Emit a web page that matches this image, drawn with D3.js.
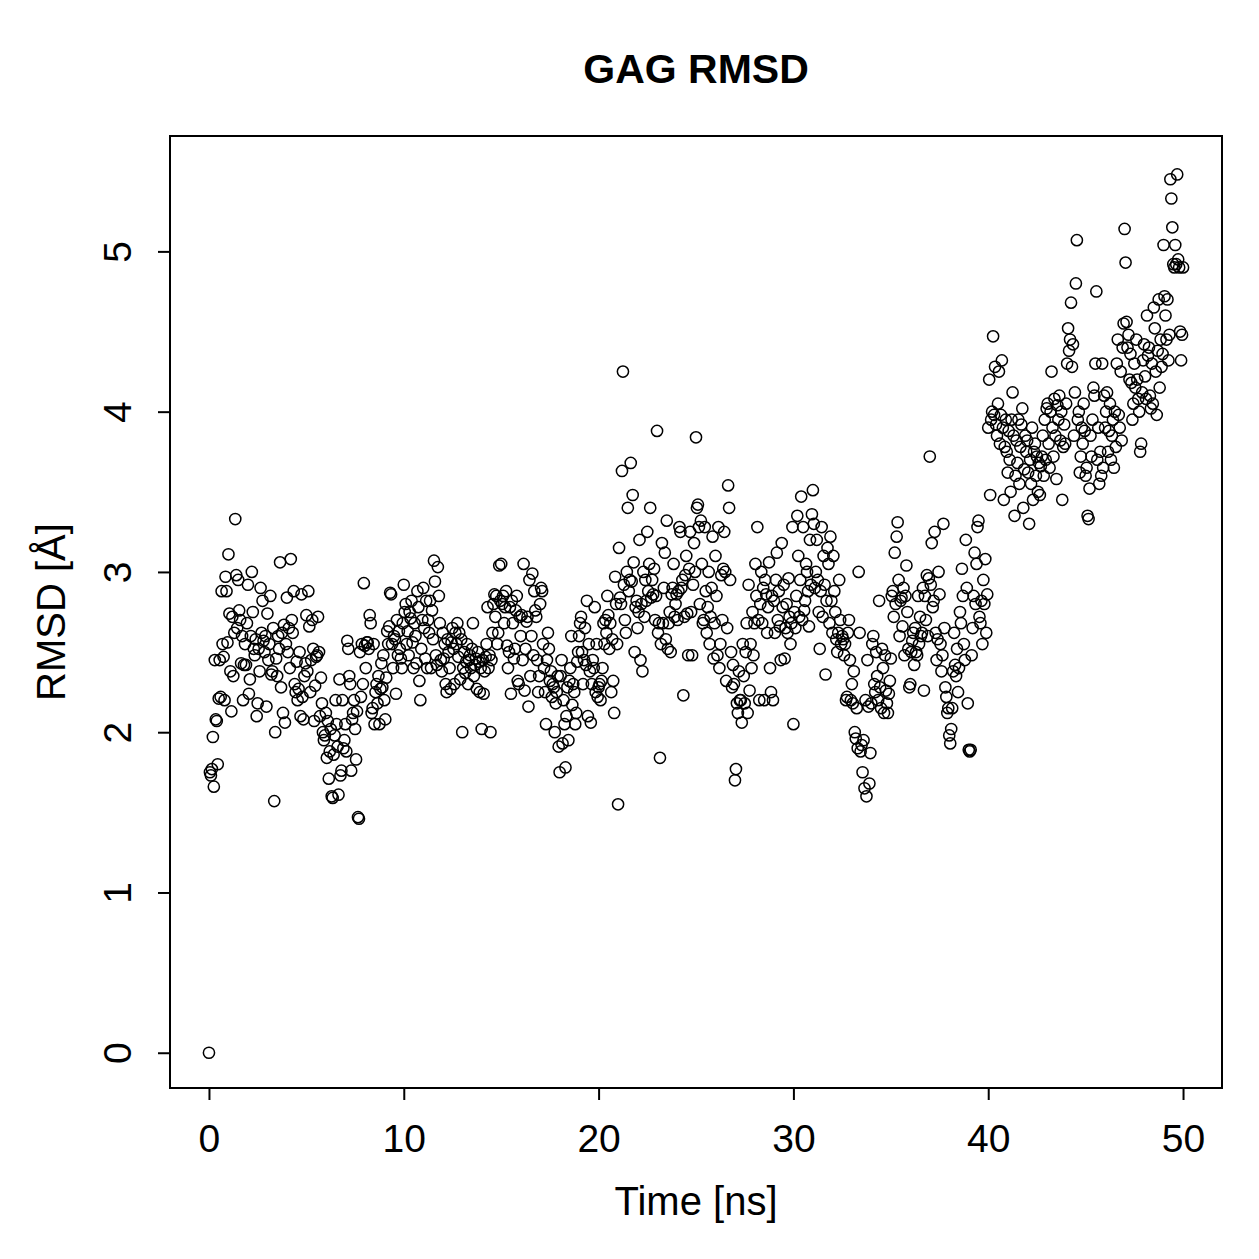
<!DOCTYPE html>
<html lang="en">
<head>
<meta charset="utf-8">
<title>GAG RMSD</title>
<style>
  body { margin: 0; background: #fff; }
  text { font-family: "Liberation Sans", Arial, sans-serif; fill: #000; }
</style>
</head>
<body>
<svg id="chart"></svg>
<script src="https://d3js.org/d3.v7.min.js"></script>
<script>
const chartTitle = "GAG RMSD";
const xLabel = "Time [ns]";
const yLabel = "RMSD [Å]";
const xTicks = [0, 10, 20, 30, 40, 50];
const yTicks = [0, 1, 2, 3, 4, 5];
const timeStep = 0.05; // ns between frames

// RMSD per frame, one row per ns (20 frames)
const rmsd = [
  0, 1.75, 1.73, 1.77, 1.97, 1.66, 2.45, 2.08, 2.07, 1.80, 2.21, 2.45, 2.22, 2.88, 2.55, 2.47, 2.20, 2.97, 2.88, 2.56,
  3.11, 2.74, 2.38, 2.13, 2.72, 2.35, 2.62, 3.33, 2.98, 2.65, 2.95, 2.76, 2.70, 2.43, 2.60, 2.20, 2.42, 2.55, 2.42, 2.68,
  2.92, 2.24, 2.33, 2.60, 3.00, 2.75, 2.52, 2.48, 2.58, 2.10, 2.18, 2.52, 2.38, 2.90, 2.62, 2.82, 2.57, 2.50, 2.60, 2.16,
  2.74, 2.45, 2.55, 2.85, 2.36, 2.38, 2.65, 1.57, 2.00, 2.46, 2.35, 2.60, 2.52, 3.06, 2.28, 2.62, 2.12, 2.67, 2.06, 2.55,
  2.84, 2.50, 2.65, 2.40, 3.08, 2.70, 2.62, 2.88, 2.30, 2.25, 2.44, 2.20, 2.27, 2.50, 2.10, 2.86, 2.22, 2.08, 2.35, 2.43,
  2.73, 2.38, 2.88, 2.66, 2.25, 2.45, 2.70, 2.52, 2.07, 2.29, 2.47, 2.48, 2.72, 2.50, 2.10, 2.34, 2.18, 2.00, 1.95, 1.98,
  2.12, 1.84, 2.07, 1.71, 1.88, 2.02, 1.60, 1.59, 1.86, 1.98, 2.20, 2.05, 1.91, 1.61, 2.33, 1.73, 1.76, 2.20, 1.90, 1.95,
  2.05, 1.88, 2.57, 2.52, 2.35, 2.30, 1.76, 2.08, 2.12, 2.20, 2.02, 1.83, 2.13, 1.47, 1.46, 2.50, 2.22, 2.55, 2.30, 2.93,
  2.54, 2.40, 2.56, 2.56, 2.52, 2.73, 2.68, 2.12, 2.15, 2.55, 2.05, 2.25, 2.30, 2.18, 2.35, 2.05, 2.27, 2.43, 2.28, 2.48,
  2.20, 2.08, 2.34, 2.63, 2.55, 2.66, 2.87, 2.86, 2.55, 2.40, 2.60, 2.58, 2.24, 2.70, 2.48, 2.63, 2.52, 2.46, 2.40, 2.68,
  2.92, 2.75, 2.80, 2.55, 2.63, 2.48, 2.75, 2.71, 2.82, 2.56, 2.40, 2.68, 2.60, 2.43, 2.88, 2.78, 2.32, 2.20, 2.52, 2.70,
  2.90, 2.65, 2.46, 2.82, 2.40, 2.70, 2.62, 2.82, 2.40, 2.76, 2.58, 3.07, 2.94, 2.48, 2.42, 3.03, 2.85, 2.68, 2.45, 2.38,
  2.62, 2.46, 2.55, 2.30, 2.25, 2.58, 2.50, 2.40, 2.27, 2.56, 2.65, 2.52, 2.30, 2.62, 2.55, 2.68, 2.47, 2.62, 2.33, 2.58,
  2.00, 2.40, 2.50, 2.37, 2.44, 2.55, 2.30, 2.45, 2.48, 2.40, 2.52, 2.68, 2.35, 2.42, 2.46, 2.27, 2.50, 2.44, 2.25, 2.40,
  2.02, 2.45, 2.24, 2.38, 2.47, 2.55, 2.78, 2.40, 2.48, 2.00, 2.45, 2.62, 2.80, 2.86, 2.72, 2.85, 2.55, 2.62, 3.04, 2.82,
  3.05, 2.80, 2.85, 2.68, 2.78, 2.88, 2.54, 2.40, 2.50, 2.78, 2.24, 2.82, 2.68, 2.46, 2.52, 2.76, 2.85, 2.32, 2.30, 2.72,
  2.60, 2.73, 2.45, 3.05, 2.26, 2.52, 2.69, 2.72, 2.16, 2.95, 2.35, 2.60, 2.99, 2.48, 2.88, 2.76, 2.72, 2.45, 2.25, 2.35,
  2.80, 2.90, 2.88, 2.55, 2.40, 2.25, 2.05, 2.45, 2.62, 2.52, 2.32, 2.38, 2.22, 2.30, 2.28, 2.00, 2.18, 2.25, 2.35, 1.91,
  1.75, 2.35, 2.45, 1.93, 2.20, 2.05, 1.78, 2.10, 2.28, 1.95, 2.32, 2.40, 2.60, 2.17, 2.30, 2.25, 2.05, 2.12, 2.44, 2.50,
  2.60, 2.68, 2.72, 2.50, 2.30, 2.45, 2.65, 2.42, 2.82, 2.10, 2.55, 2.38, 2.06, 2.30, 2.45, 2.40, 2.78, 2.25, 2.55, 2.22,
  2.28, 2.30, 2.20, 2.32, 2.40, 2.68, 2.55, 2.70, 2.62, 2.85, 2.73, 2.52, 2.68, 2.25, 2.58, 2.32, 2.12, 2.97, 2.80, 2.55,
  1.55, 3.15, 2.84, 2.80, 3.63, 4.25, 2.92, 2.70, 2.62, 3.00, 3.40, 2.88, 2.95, 3.68, 2.94, 3.48, 3.06, 2.50, 2.78, 2.82,
  2.65, 2.75, 3.20, 2.45, 2.80, 2.38, 3.00, 2.72, 2.95, 2.82, 3.25, 2.88, 3.05, 3.40, 2.84, 2.95, 2.86, 3.02, 2.70, 2.85,
  3.88, 2.62, 2.68, 1.84, 2.55, 3.18, 2.68, 2.90, 3.12, 2.58, 3.32, 2.52, 2.68, 2.75, 2.50, 2.86, 2.90, 3.05, 2.72, 2.80,
  2.86, 2.70, 2.88, 3.28, 3.25, 2.90, 2.95, 2.23, 2.72, 2.98, 3.10, 2.74, 2.48, 3.02, 3.25, 2.75, 2.48, 2.92, 3.18, 3.00,
  3.84, 3.40, 3.42, 3.28, 2.80, 3.32, 3.05, 2.68, 2.70, 3.28, 2.88, 2.62, 2.78, 3.00, 2.55, 2.72, 2.90, 3.22, 2.46, 2.68,
  3.10, 2.85, 2.48, 3.28, 2.40, 2.55, 2.98, 2.70, 3.02, 3.25, 3.00, 2.32, 2.65, 3.54, 3.40, 2.95, 2.50, 2.28, 2.42, 2.30,
  1.70, 1.77, 2.18, 2.12, 2.38, 2.20, 2.20, 2.06, 2.55, 2.35, 2.18, 2.50, 2.68, 2.12, 2.92, 2.26, 2.55, 2.40, 2.75, 2.48,
  2.68, 3.05, 2.85, 3.28, 2.70, 2.20, 2.80, 3.00, 2.68, 2.90, 2.20, 2.95, 2.86, 2.62, 2.78, 3.06, 2.40, 2.25, 2.85, 2.20,
  2.82, 2.62, 2.95, 3.12, 2.70, 2.88, 2.66, 2.45, 3.18, 2.78, 2.92, 2.46, 2.65, 2.80, 2.62, 2.96, 2.72, 2.55, 2.68, 3.28,
  2.05, 2.75, 2.65, 2.85, 3.35, 3.10, 2.72, 2.95, 3.47, 2.70, 3.28, 2.76, 2.82, 3.05, 3.00, 2.88, 2.66, 3.20, 2.92, 3.36,
  3.51, 3.30, 2.90, 3.00, 3.20, 2.95, 2.75, 2.52, 2.88, 3.28, 2.72, 3.10, 2.92, 2.36, 2.82, 3.15, 3.05, 2.68, 3.22, 2.82,
  2.62, 3.10, 2.88, 2.75, 2.58, 2.50, 2.62, 2.95, 2.70, 2.55, 2.60, 2.58, 2.48, 2.55, 2.20, 2.22, 2.62, 2.70, 2.45, 2.20,
  2.30, 2.18, 2.38, 2.00, 1.96, 2.15, 1.90, 3.00, 2.62, 1.88, 1.92, 1.75, 1.95, 1.65, 2.20, 1.60, 2.45, 2.16, 1.68, 1.87,
  2.18, 2.55, 2.60, 2.30, 2.25, 2.50, 2.35, 2.20, 2.82, 2.28, 2.15, 2.52, 2.40, 2.12, 2.48, 2.26, 2.18, 2.12, 2.24, 2.32,
  2.46, 2.85, 2.88, 2.72, 3.12, 2.80, 3.22, 3.31, 2.95, 2.60, 2.82, 2.84, 2.66, 2.90, 2.48, 2.85, 3.04, 2.75, 2.52, 2.28,
  2.30, 2.50, 2.57, 2.62, 2.42, 2.65, 2.50, 2.48, 2.85, 2.55, 2.72, 2.60, 2.62, 2.90, 2.26, 2.85, 2.70, 2.98, 2.60, 2.96,
  3.72, 2.92, 3.18, 2.78, 2.82, 3.25, 2.62, 2.45, 2.58, 3.00, 2.86, 2.55, 2.38, 2.48, 3.30, 2.65, 2.28, 2.22, 2.12, 2.15,
  1.98, 1.93, 2.02, 2.15, 2.38, 2.62, 2.42, 2.35, 2.52, 2.25, 2.40, 2.75, 2.68, 3.02, 2.85, 2.55, 2.45, 3.20, 2.90, 2.18,
  1.89, 1.88, 1.89, 2.48, 2.65, 2.85, 3.12, 2.80, 3.05, 3.28, 3.32, 2.72, 2.68, 2.82, 2.55, 2.95, 2.80, 3.08, 2.62, 2.86,
  3.90, 4.20, 3.48, 3.95, 4.00, 4.47, 3.98, 4.28, 3.92, 3.85, 4.05, 4.25, 3.80, 3.98, 4.32, 3.90, 3.45, 3.78, 3.95, 3.75,
  3.62, 3.88, 3.70, 3.50, 3.95, 4.12, 3.85, 3.35, 3.60, 3.82, 3.68, 3.95, 3.55, 3.78, 3.92, 4.02, 3.40, 3.64, 3.85, 3.75,
  3.82, 3.62, 3.30, 3.70, 3.55, 3.90, 3.45, 3.75, 3.80, 3.60, 3.72, 3.50, 3.68, 3.48, 3.66, 3.72, 3.85, 3.60, 3.95, 3.70,
  4.02, 4.05, 3.80, 3.65, 4.00, 4.25, 3.90, 3.72, 4.08, 3.85, 3.58, 4.04, 3.95, 4.10, 3.82, 4.00, 3.45, 3.78, 3.92, 3.80,
  4.05, 4.30, 4.52, 4.38, 4.45, 4.68, 4.28, 4.42, 3.85, 4.12, 4.80, 5.07, 3.95, 4.00, 3.62, 3.72, 3.90, 3.80, 4.05, 3.88,
  3.60, 3.65, 3.35, 3.33, 3.52, 3.85, 3.72, 3.95, 4.15, 4.10, 4.30, 4.75, 3.70, 3.90, 3.55, 3.75, 3.60, 4.30, 3.65, 4.10,
  3.90, 4.00, 4.12, 3.75, 3.88, 4.05, 3.70, 3.85, 3.95, 3.65, 4.00, 3.78, 4.30, 4.45, 3.98, 3.90, 4.25, 3.82, 4.40, 4.55,
  5.14, 4.93, 4.56, 4.40, 4.48, 4.20, 4.36, 4.18, 3.95, 4.05, 4.30, 4.15, 4.45, 4.20, 4.08, 4.00, 3.75, 3.80, 4.12, 4.32,
  4.42, 4.22, 4.08, 4.60, 4.35, 4.40, 4.10, 4.02, 4.30, 4.05, 4.65, 4.52, 4.25, 3.98, 4.38, 4.70, 4.15, 4.45, 4.28, 4.36,
  5.04, 4.72, 4.60, 4.45, 4.70, 4.32, 4.48, 5.45, 5.33, 5.15, 4.92, 4.90, 5.04, 4.92, 5.48, 4.95, 4.90, 4.50, 4.32, 4.48,
  4.90
];

const W = 1259, H = 1259;
const plot = { left: 170, right: 1222, top: 136, bottom: 1088 };

const svg = d3.select("#chart").attr("width", W).attr("height", H);

// R style: 4% padding on each side of the data range
const xScale = d3.scaleLinear().domain([-2, 52]).range([plot.left, plot.right]);
const yScale = d3.scaleLinear().domain([-0.22, 5.72]).range([plot.bottom, plot.top]);

svg.append("g")
  .selectAll("circle")
  .data(rmsd)
  .enter()
  .append("circle")
  .attr("cx", (d, i) => xScale(i * timeStep))
  .attr("cy", d => yScale(d))
  .attr("r", 5.6)
  .style("fill", "none")
  .style("stroke", "black")
  .style("stroke-width", 1.5);

// box
svg.append("rect")
  .attr("x", plot.left).attr("y", plot.top)
  .attr("width", plot.right - plot.left).attr("height", plot.bottom - plot.top)
  .style("fill", "none").style("stroke", "black").style("stroke-width", 2);

const xAxis = d3.axisBottom(xScale).tickValues(xTicks).tickFormat(d3.format("d"))
  .tickSize(12).tickPadding(10).tickSizeOuter(0);
const gx = svg.append("g").attr("transform", "translate(0," + plot.bottom + ")").call(xAxis);
gx.select(".domain").attr("d", "M" + xScale(xTicks[0]) + ",0H" + xScale(xTicks[xTicks.length - 1]))
  .style("stroke-width", 2);
gx.selectAll(".tick line").style("stroke-width", 2);
gx.selectAll(".tick text")
  .attr("y", 64).attr("dy", null)
  .style("font-size", "39px").style("font-family", "Liberation Sans, Arial, sans-serif");

const yAxis = d3.axisLeft(yScale).tickValues(yTicks).tickFormat(d3.format("d"))
  .tickSize(12).tickSizeOuter(0);
const gy = svg.append("g").attr("transform", "translate(" + plot.left + ",0)").call(yAxis);
gy.select(".domain").attr("d", "M0," + yScale(yTicks[0]) + "V" + yScale(yTicks[yTicks.length - 1]))
  .style("stroke-width", 2);
gy.selectAll(".tick line").style("stroke-width", 2);
gy.selectAll(".tick text")
  .attr("x", null).attr("dy", null)
  .attr("text-anchor", "middle")
  .attr("transform", "translate(-39,0) rotate(-90)")
  .style("font-size", "39px")
  .style("font-family", "Liberation Sans, Arial, sans-serif");

svg.append("text")
  .attr("x", (plot.left + plot.right) / 2).attr("y", 83)
  .attr("text-anchor", "middle")
  .style("font-size", "41px").style("font-weight", "bold")
  .text(chartTitle);

svg.append("text")
  .attr("x", (plot.left + plot.right) / 2).attr("y", 1215)
  .attr("text-anchor", "middle")
  .style("font-size", "40px")
  .text(xLabel);

svg.append("text")
  .attr("transform", "translate(65," + (plot.top + plot.bottom) / 2 + ") rotate(-90)")
  .attr("text-anchor", "middle")
  .style("font-size", "40px")
  .text(yLabel);
</script>
</body>
</html>
